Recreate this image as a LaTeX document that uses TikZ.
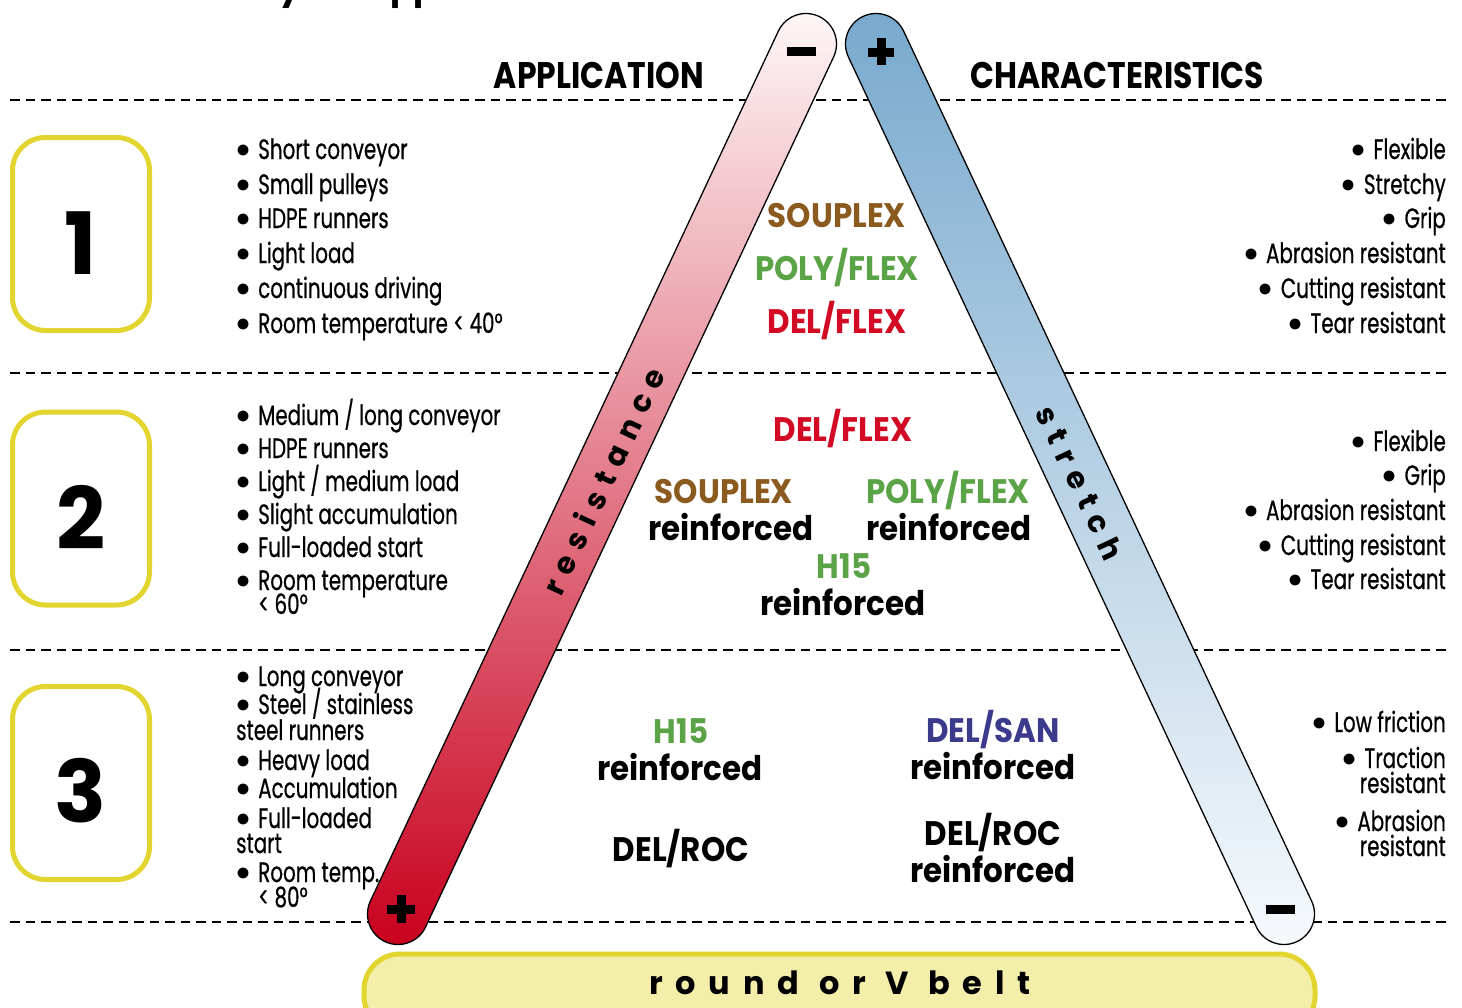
\documentclass[tikz,border=0pt]{standalone}
\usepackage{fontspec}
\setmainfont{Poppins}
\newfontfamily\listf[FakeStretch=0.71,FakeBold=0.6]{Poppins}
\newfontfamily\bulf{Poppins}
\newfontfamily\labf[FakeStretch=0.91]{Poppins}
\newfontfamily\headf[FakeStretch=0.85]{Poppins}
\newfontfamily\numf{Poppins}
\newfontfamily\spacef[LetterSpace=31]{Poppins}
\newfontfamily\beltf[LetterSpace=40]{Poppins}
\definecolor{ybord}{HTML}{E2D52F}
\definecolor{yfill}{HTML}{F3EFAB}
\definecolor{brownc}{HTML}{8A5A1E}
\definecolor{greenc}{HTML}{5BA347}
\definecolor{redc}{HTML}{D20A24}
\definecolor{navyc}{HTML}{3B3A8C}
\definecolor{redtop}{HTML}{FEF7F8}
\definecolor{redbot}{HTML}{C8001D}
\definecolor{bluetop}{HTML}{78A9CD}
\definecolor{bluebot}{HTML}{F7FAFD}
\newcommand\bul{\raisebox{-3pt}{\bulf\bfseries\fontsize{36}{30}\selectfont\textbullet}\hspace{6pt}}
\begin{document}
\begin{tikzpicture}[x=1pt,y=1pt,
  dline/.style={dash pattern=on 9.5pt off 6pt, line width=2.4pt},
  numbox/.style={draw=ybord, line width=5pt, rounded corners=33pt, minimum width=137pt, minimum height=193pt, inner sep=0pt},
  numtxt/.style={font=\numf\bfseries\fontsize{86}{86}\selectfont, inner sep=0pt},
  li/.style={anchor=base west, inner sep=0pt, font=\listf\fontsize{28}{30}\selectfont},
  ri/.style={anchor=base east, inner sep=0pt, font=\listf\fontsize{28}{30}\selectfont},
  lab/.style={anchor=base, inner sep=0pt, font=\labf\bfseries\fontsize{34}{36}\selectfont},
  head/.style={anchor=base, inner sep=0pt, font=\headf\bfseries\fontsize{37}{40}\selectfont},
  barline/.style={draw=black, line width=1.3pt},
  sym/.style={fill=black, draw=none}]
\useasboundingbox (0,0) rectangle (1462,-1007);
% clipped title fragment
\node[anchor=base west, inner sep=0pt, font=\bfseries\fontsize{34}{34}\selectfont] (title) at (279,1) {your application};
% dashed separators
\foreach \yy in {100,373,650,922}
  \draw[dline] (10,-\yy) -- (1447,-\yy);
% bars
\coordinate (rb) at (398,-914);
\coordinate (rt) at (806,-44);
\coordinate (bt) at (876,-44);
\coordinate (bb) at (1284,-914);
\shade[barline, top color=redtop, bottom color=redbot]
  ([shift={(-25.13:30.5)}]rb) -- ([shift={(-25.13:30.5)}]rt)
  arc[start angle=-25.13, end angle=154.87, radius=30.5]
  -- ([shift={(154.87:30.5)}]rb)
  arc[start angle=154.87, end angle=334.87, radius=30.5] -- cycle;
\shade[barline, top color=bluetop, bottom color=bluebot]
  ([shift={(25.13:30.5)}]bb) -- ([shift={(25.13:30.5)}]bt)
  arc[start angle=25.13, end angle=205.13, radius=30.5]
  -- ([shift={(205.13:30.5)}]bb)
  arc[start angle=205.13, end angle=385.13, radius=30.5] -- cycle;
% plus / minus signs
\fill[sym] (787,-47) rectangle (816,-56);
\fill[sym] (868,-47.5) rectangle (894,-56.5);
\fill[sym] (876.5,-38) rectangle (885.5,-65);
\fill[sym] (387,-904.5) rectangle (415,-913.5);
\fill[sym] (396.5,-895) rectangle (405.5,-923);
\fill[sym] (1266,-905) rectangle (1295,-914);
% bar labels
\node[inner sep=0pt, rotate=64.87, font=\spacef\bfseries\fontsize{30}{30}\selectfont] (res) at (603,-481) {resistance};
\node[inner sep=0pt, rotate=-64.87, font=\spacef\bfseries\fontsize{30}{30}\selectfont] (str) at (1080,-483) {stretch};
% belt
\draw[draw=ybord, fill=yfill, line width=5pt, rounded corners=36pt] (364,-954) rectangle (1315,-1032);
\node[anchor=base, inner sep=0pt, font=\beltf\bfseries\fontsize{32}{32}\selectfont] (belt) at (840,-994) {round or V belt};
% headers
\node[head] (happ) at (599,-88) {APPLICATION};
\node[head] (hchar) at (1117,-88) {CHARACTERISTICS};
% number boxes
\node[numbox] (box1) at (81,-234) {};
\node[numbox] (box2) at (81,-508.5) {};
\node[numbox] (box3) at (81,-783) {};
\node[numtxt] (n1) at (81,-243) {1};
\node[numtxt] (n2) at (81,-517) {2};
\node[numtxt] (n3) at (81,-791) {3};
% left lists
\node[li] (a11) at (234,-159) {\bul Short conveyor};
\node[li] (a12) at (234,-194) {\bul Small pulleys};
\node[li] (a13) at (234,-228) {\bul HDPE runners};
\node[li] (a14) at (234,-263) {\bul Light load};
\node[li] (a15) at (234,-298) {\bul continuous driving};
\node[li] (a16) at (234,-333) {\bul Room temperature < 40°};
\node[li] (a21) at (234,-425) {\bul Medium / long conveyor};
\node[li] (a22) at (234,-458) {\bul HDPE runners};
\node[li] (a23) at (234,-491) {\bul Light / medium load};
\node[li] (a24) at (234,-524) {\bul Slight accumulation};
\node[li] (a25) at (234,-557) {\bul Full-loaded start};
\node[li] (a26) at (234,-590) {\bul Room temperature};
\node[li] (a27) at (258,-614) {< 60°};
\node[li] (a31) at (234,-686) {\bul Long conveyor};
\node[li] (a32) at (234,-714) {\bul Steel / stainless};
\node[li] (a33) at (236,-740) {steel runners};
\node[li] (a34) at (234,-770) {\bul Heavy load};
\node[li] (a35) at (234,-798) {\bul Accumulation};
\node[li] (a36) at (234,-828) {\bul Full-loaded};
\node[li] (a37) at (236,-853) {start};
\node[li] (a38) at (234,-882) {\bul Room temp.};
\node[li] (a39) at (258,-907) {< 80°};
% right lists
\node[ri] (c11) at (1446,-159) {\bul Flexible};
\node[ri] (c12) at (1446,-194) {\bul Stretchy};
\node[ri] (c13) at (1446,-228) {\bul Grip};
\node[ri] (c14) at (1446,-263) {\bul Abrasion resistant};
\node[ri] (c15) at (1446,-298) {\bul Cutting resistant};
\node[ri] (c16) at (1446,-333) {\bul Tear resistant};
\node[ri] (c21) at (1446,-451) {\bul Flexible};
\node[ri] (c22) at (1446,-485) {\bul Grip};
\node[ri] (c23) at (1446,-520) {\bul Abrasion resistant};
\node[ri] (c24) at (1446,-555) {\bul Cutting resistant};
\node[ri] (c25) at (1446,-589) {\bul Tear resistant};
\node[ri] (c31) at (1446,-732) {\bul Low friction};
\node[ri] (c32) at (1446,-768) {\bul Traction};
\node[ri] (c33) at (1446,-793) {resistant};
\node[ri] (c34) at (1446,-831) {\bul Abrasion};
\node[ri] (c35) at (1446,-856) {resistant};
% product labels
\node[lab, text=brownc] (p11) at (837,-227) {SOUPLEX};
\node[lab, text=greenc] (p12) at (837,-280) {POLY/FLEX};
\node[lab, text=redc] (p13) at (837,-333) {DEL/FLEX};
\node[lab, text=redc] (p21) at (843,-441) {DEL/FLEX};
\node[lab, text=brownc] (p22) at (724,-503) {SOUPLEX};
\node[lab] (p23) at (731,-540) {reinforced};
\node[lab, text=greenc] (p24) at (948,-503) {POLY/FLEX};
\node[lab] (p25) at (949,-540) {reinforced};
\node[lab, text=greenc] (p26) at (844,-578) {H15};
\node[lab] (p27) at (843,-615) {reinforced};
\node[lab, text=greenc] (p31) at (681,-743) {H15};
\node[lab] (p32) at (680,-780) {reinforced};
\node[lab, text=navyc] (p33) at (993,-742) {DEL/SAN};
\node[lab] (p34) at (993,-779) {reinforced};
\node[lab] (p35) at (681,-861) {DEL/ROC};
\node[lab] (p36) at (993,-845) {DEL/ROC};
\node[lab] (p37) at (993,-882) {reinforced};
\end{tikzpicture}
\end{document}
